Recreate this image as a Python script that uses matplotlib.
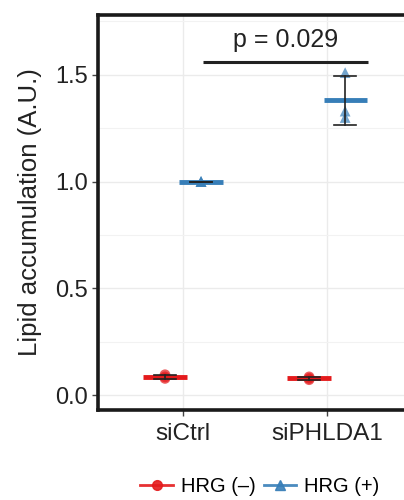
import matplotlib
matplotlib.use("Agg")
import matplotlib.pyplot as plt
import numpy as np
from matplotlib.lines import Line2D

plt.rcParams['font.family'] = ['Liberation Sans', 'DejaVu Sans']

categories = ["siCtrl", "siPHLDA1"]
groups = ["HRG (\u2013)", "HRG (+)"]
values_neg = [[0.095, 0.085, 0.078], [0.085, 0.078, 0.072]]
values_pos = [[1.0, 1.0, 1.0], [1.51, 1.33, 1.30]]
p_text = "p = 0.029"
yticks = [0.0, 0.5, 1.0, 1.5]

red = "#E41A1C"
blue = "#377EB8"

fig = plt.figure(figsize=(4.04, 5.0), dpi=100)
ax = fig.add_axes([98/404, 1-410/500, 330/404, 395/500])
ax.set_xlim(0.41, 2.7)
ax.set_ylim(-0.07, 1.78)

off = 0.125
hw = 0.15
cap = 0.075
for i, cat in enumerate(categories):
    xc = i + 1
    for vals, col, mk, dx in [(values_neg[i], red, 'o', -off), (values_pos[i], blue, '^', off)]:
        v = np.array(vals)
        m = v.mean(); sd = v.std(ddof=1)
        x = xc + dx
        ax.scatter([x]*len(v), v, color=col, marker=mk, s=60, alpha=0.7, edgecolors='none', zorder=3)
        ax.plot([x-hw, x+hw], [m, m], color=col, lw=3.5, solid_capstyle='butt', zorder=4)
        ax.plot([x, x], [m-sd, m+sd], color='#222222', lw=1.2, zorder=5)
        for yy in (m-sd, m+sd):
            ax.plot([x-cap, x+cap], [yy, yy], color='#222222', lw=1.2, zorder=5)

# significance bar
ax.plot([1.14, 2.285], [1.562, 1.562], color='#222222', lw=2.2, solid_capstyle='butt', zorder=5)
ax.text((1.14+2.285)/2, 1.605, p_text, ha='center', va='bottom', fontsize=18, color='#222222')

ax.set_xticks([1, 2])
ax.set_xticklabels(categories, fontsize=17.5, color='#222222')
ax.set_yticks(yticks)
ax.set_yticklabels([f"{t:.1f}" for t in yticks], fontsize=17, color='#222222')
ax.set_yticks([0.25, 0.75, 1.25, 1.75], minor=True)
ax.tick_params(axis='y', which='minor', length=0)
ax.tick_params(axis='both', which='major', length=4, width=1, color='#444444', pad=3)
ax.tick_params(axis='x', which='major', pad=5)
ax.grid(True, which='major', color='#ebebeb', lw=1.0, zorder=0)
ax.grid(True, which='minor', axis='y', color='#f2f2f2', lw=0.8, zorder=0)
ax.set_axisbelow(True)
for s in ax.spines.values():
    s.set_linewidth(2.6)
    s.set_color('#1a1a1a')
ax.set_ylabel("Lipid accumulation (A.U.)", fontsize=18.5, color='#222222', labelpad=10)

handles = [
    Line2D([0], [0], color=red, lw=2, marker='o', markersize=7, alpha=0.9),
    Line2D([0], [0], color=blue, lw=2, marker='^', markersize=7, alpha=0.9),
]
fig.legend(handles, groups, loc='center', bbox_to_anchor=(0.643, 1-487/500), ncol=2,
           frameon=False, fontsize=14.5, handlelength=1.6, handletextpad=0.4, columnspacing=0.4)

fig.savefig("out.png", dpi=100)
